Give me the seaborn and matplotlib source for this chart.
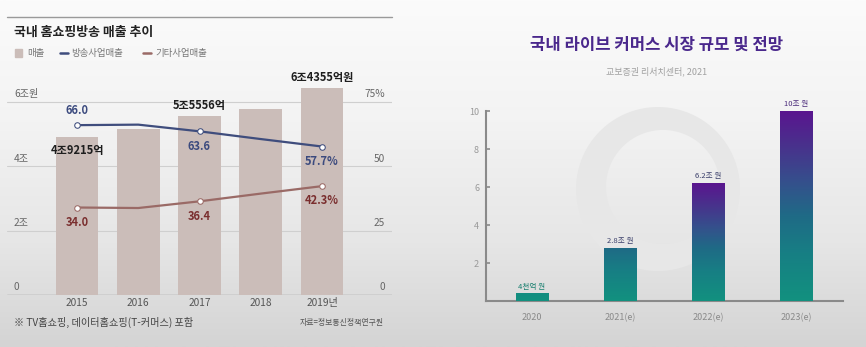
import numpy as np
import pandas as pd
import matplotlib
matplotlib.use('Agg')
import matplotlib.pyplot as plt
import seaborn as sns
from matplotlib.colors import LinearSegmentedColormap
from matplotlib.path import Path
from matplotlib.patches import PathPatch, Rectangle

# ---------------- data ----------------
years_l = ['2015', '2016', '2017', '2018', '2019년']
sales = [4.9215, 5.16, 5.5556, 5.79, 6.4355]            # 조원
sales_labels = ['4조9215억', '', '5조5556억', '', '6조4355억원']
broadcast = [66.0, 66.2, 63.6, 60.6, 57.7]              # %
other = [34.0, 33.8, 36.4, 39.4, 42.3]                  # %
broadcast_labels = ['66.0', '', '63.6', '', '57.7%']
other_labels = ['34.0', '', '36.4', '', '42.3%']
left_yticks = [0, 2, 4, 6]
left_yticklabels = ['0', '2조', '4조', '6조원']
right_yticklabels = ['0', '25', '50', '75%']

years_r = ['2020', '2021(e)', '2022(e)', '2023(e)']
live = [0.4, 2.8, 6.2, 10.0]
live_labels = ['4천억 원', '2.8조 원', '6.2조 원', '10조 원']
right_yticks = [2, 4, 6, 8, 10]

# ---------------- setup ----------------
sns.set_theme(style='white')
plt.rcParams['font.family'] = ['Noto Sans CJK KR', 'DejaVu Sans']

W, H = 866, 347
fig = plt.figure(figsize=(W / 100, H / 100), dpi=100)


def rect(x0, y0, x1, y1):
    return [x0 / W, 1 - y1 / H, (x1 - x0) / W, (y1 - y0) / H]


# background gradient
bg = fig.add_axes([0, 0, 1, 1], zorder=0)
grad = np.linspace(0, 1, 256).reshape(-1, 1)
bg_cmap = LinearSegmentedColormap.from_list(
    'bg', [(0, '#fbfbfb'), (0.35, '#f3f3f3'), (0.7, '#e6e6e6'), (1, '#d4d4d4')])
bg.imshow(grad, cmap=bg_cmap, extent=[0, W, H, 0], aspect='auto')
bg.set_xlim(0, W)
bg.set_ylim(H, 0)
bg.axis('off')
bg.plot([7, 392], [17, 17], color='#9a9a9a', lw=1)

# decorative ring on right panel
def circle_path(cx, cy, r, reverse=False):
    t = np.linspace(0, 2 * np.pi, 100)
    if reverse:
        t = t[::-1]
    v = np.column_stack([cx + r * np.cos(t), cy + r * np.sin(t)])
    codes = [Path.MOVETO] + [Path.LINETO] * 98 + [Path.CLOSEPOLY]
    return v, codes

v1, c1 = circle_path(658, 189, 82)
v2, c2 = circle_path(663, 187, 57, reverse=True)
ring = Path(np.vstack([v1, v2]), c1 + c2)
bg.add_patch(PathPatch(ring, facecolor='#e7e7e7', edgecolor='none'))

# ---------------- left panel ----------------
fig.text(14 / W, 1 - 32 / H, '국내 홈쇼핑방송 매출 추이', fontsize=9.3,
         fontweight='bold', color='#222222', va='center', ha='left')
# legend
bg.add_patch(Rectangle((15, 49), 7, 8, color='#cbbdb9'))
bg.text(27, 53, '매출', fontsize=6.8, color='#777777', va='center')
bg.plot([60, 68], [53, 53], color='#3f4d7d', lw=1.8)
bg.text(71, 53, '방송사업매출', fontsize=6.8, color='#777777', va='center')
bg.plot([143, 151], [53, 53], color='#9a6a66', lw=1.8)
bg.text(155, 53, '기타사업매출', fontsize=6.8, color='#777777', va='center')

axL = fig.add_axes(rect(7, 75, 392, 295), zorder=2)
axL.patch.set_alpha(0)
df_l = pd.DataFrame({'year': years_l, 'sales': sales})
sns.barplot(data=df_l, x='year', y='sales', color='#cbbdb9', saturation=1,
            width=0.70, ax=axL, zorder=2, edgecolor='none', linewidth=0)
for y in left_yticks:
    axL.axhline(y, color='#9a9a9a' if y == 0 else '#cfcfcf',
                lw=1.0 if y == 0 else 0.8, zorder=1)
axL.set_xlim(-1.143, 5.143)
axL.set_ylim(0, 6.839)
axL.set_xlabel('')
axL.set_ylabel('')
axL.set_yticks([])
axL.set_xticks(range(len(years_l)), years_l)
axL.tick_params(axis='x', length=0, pad=2, labelsize=7.3, labelcolor='#555555')
for s in axL.spines.values():
    s.set_visible(False)
for y, lab in zip(left_yticks, left_yticklabels):
    axL.text(-1.03, y + 0.08, lab, fontsize=7.3, color='#666666',
             ha='left', va='bottom')
for i, (v, lab) in enumerate(zip(sales, sales_labels)):
    if lab:
        off = -0.62 if i == 0 else 0.12
        axL.text(i, v + off, lab, fontsize=8, fontweight='bold',
                 color='#1e1e1e', ha='center', va='bottom', zorder=6)

axT = axL.twinx()
axT.patch.set_alpha(0)
sns.lineplot(x=list(range(len(broadcast))), y=broadcast, ax=axT, color='#3f4d7d',
             lw=1.6, marker='o', markevery=[0, 2, 4], markersize=4,
             markerfacecolor='white', markeredgecolor='#3f4d7d', zorder=4)
sns.lineplot(x=list(range(len(other))), y=other, ax=axT, color='#9a6a66',
             lw=1.6, marker='o', markevery=[0, 2, 4], markersize=4,
             markerfacecolor='white', markeredgecolor='#9a6a66', zorder=4)
axT.set_xlim(-1.143, 5.143)
axT.set_ylim(0, 85.49)
axT.set_yticks([])
axT.set_ylabel('')
for s in axT.spines.values():
    s.set_visible(False)
for y, lab in zip([0, 25, 50, 75], right_yticklabels):
    axT.text(5.03, y + 1.0, lab, fontsize=7.3, color='#666666',
             ha='right', va='bottom')
for i, (v, lab) in enumerate(zip(broadcast, broadcast_labels)):
    if lab:
        dy = 3.0 if i == 0 else -3.2
        axT.text(i, v + dy, lab, fontsize=8, fontweight='bold', color='#3b4a7e',
                 ha='center', va='bottom' if dy > 0 else 'top', zorder=6)
for i, (v, lab) in enumerate(zip(other, other_labels)):
    if lab:
        axT.text(i, v - 3.2, lab, fontsize=8, fontweight='bold', color='#7a2e2e',
                 ha='center', va='top', zorder=6)

fig.text(14 / W, 1 - 322 / H, '※ TV홈쇼핑, 데이터홈쇼핑(T-커머스) 포함', fontsize=7.3,
         color='#444444', va='center', ha='left')
fig.text(384 / W, 1 - 323 / H, '자료=정보통신정책연구원', fontsize=5.7,
         color='#555555', va='center', ha='right')

# ---------------- right panel ----------------
fig.text(657 / W, 1 - 45 / H, '국내 라이브 커머스 시장 규모 및 전망', fontsize=12,
         fontweight='bold', color='#4a288c', va='center', ha='center')
fig.text(657 / W, 1 - 71 / H, '교보증권 리서치센터, 2021', fontsize=6.5,
         color='#a0a0a0', va='center', ha='center')

axB = fig.add_axes(rect(486, 105, 843, 301), zorder=2)
axB.patch.set_alpha(0)
df_r = pd.DataFrame({'year': years_r, 'value': live})
sns.barplot(data=df_r, x='year', y='value', color='#139280', saturation=1,
            width=0.375, ax=axB, zorder=3, edgecolor='none', linewidth=0)
bar_cmap = LinearSegmentedColormap.from_list(
    'bar', [(0, '#12917f'), (0.25, '#177f84'), (0.45, '#1f6a86'),
            (0.62, '#34518c'), (0.8, '#47348c'), (1, '#5a158f')])
for p in axB.patches:
    x0 = p.get_x()
    w = p.get_width()
    h = p.get_height()
    top = max(h, 6.2)
    g = np.linspace(0, h / top, 256).reshape(-1, 1)
    im = axB.imshow(g, cmap=bar_cmap, vmin=0, vmax=1, origin='lower',
                    aspect='auto', extent=[x0, x0 + w, 0, h], zorder=4)
    im.set_clip_path(p)
axB.set_xlim(-0.523, 3.534)
axB.set_ylim(0, 10.32)
axB.set_xlabel('')
axB.set_ylabel('')
for s in ['top', 'right']:
    axB.spines[s].set_visible(False)
for s in ['left', 'bottom']:
    axB.spines[s].set_color('#8a8a8a')
    axB.spines[s].set_linewidth(1.5)
axB.spines['left'].set_bounds(0, 10)
axB.set_yticks(right_yticks, [str(t) for t in right_yticks])
axB.tick_params(axis='y', direction='in', length=3, width=1.2, color='#8a8a8a',
                labelsize=6.5, labelcolor='#9a9a9a', pad=5, left=True)
axB.set_xticks(range(len(years_r)), years_r)
axB.tick_params(axis='x', length=0, pad=9, labelsize=6.5, labelcolor='#8a8a8a')
for i, (v, lab) in enumerate(zip(live, live_labels)):
    col = '#1a8070' if i == 0 else ('#3a3f6a' if i < 3 else '#4a2a7a')
    axB.text(i, v + 0.15, lab, fontsize=5.5, color=col, ha='center',
             va='bottom', zorder=6)

fig.savefig('out.png', dpi=100)
